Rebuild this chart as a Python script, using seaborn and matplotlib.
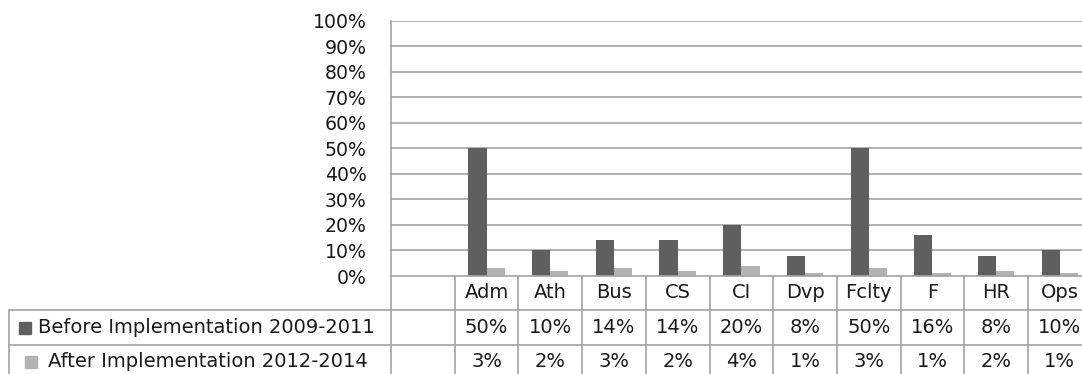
import matplotlib
matplotlib.use("Agg")
import matplotlib.pyplot as plt
import matplotlib.transforms as mtrans
from matplotlib.ticker import PercentFormatter
import pandas as pd
import seaborn as sns

# Departments (the first column of the chart is left empty)
categories = ["Adm", "Ath", "Bus", "CS", "CI", "Dvp", "Fclty", "F", "HR", "Ops"]
series_names = ["Before Implementation 2009-2011", "After Implementation 2012-2014"]
before_values = [0.50, 0.10, 0.14, 0.14, 0.20, 0.08, 0.50, 0.16, 0.08, 0.10]
after_values = [0.03, 0.02, 0.03, 0.02, 0.04, 0.01, 0.03, 0.01, 0.02, 0.01]
y_ticks = [0.0, 0.1, 0.2, 0.3, 0.4, 0.5, 0.6, 0.7, 0.8, 0.9, 1.0]

colors = ["#5f5f5f", "#b3b3b3"]
grid_color = "#a3a3a3"
text_color = "#1a1a1a"

df = pd.DataFrame({
    "Department": categories * 2,
    "Series": [series_names[0]] * len(categories) + [series_names[1]] * len(categories),
    "Share": before_values + after_values,
})
order = [""] + categories

sns.set_theme(style="white")
plt.rcParams["font.family"] = ["DejaVu Sans"]

W, H = 1082, 374
fig = plt.figure(figsize=(W / 100, H / 100), dpi=100)

# plot area geometry in pixels (from top-left)
left_px, top_px, zero_px = 391.0, 20.5, 276.0
col_w = 63.7
ncols = len(order)
ax = fig.add_axes([left_px / W, (H - zero_px) / H,
                   ncols * col_w / W, (zero_px - top_px) / H])

sns.barplot(data=df, x="Department", y="Share", hue="Series", order=order,
            hue_order=series_names, palette=colors, width=0.572,
            saturation=1, ax=ax, legend=False, edgecolor="none")

ax.set_xlim(-0.5, ncols - 0.5)
ax.set_ylim(0, 1)
ax.set_yticks(y_ticks)
ax.yaxis.set_major_formatter(PercentFormatter(1.0, decimals=0))
ax.set_xticks([])
ax.set_xlabel("")
ax.set_ylabel("")
ax.tick_params(axis="y", length=0, pad=17.5, labelsize=13.6, labelcolor=text_color)
for t in y_ticks[1:]:
    ax.axhline(t, color=grid_color, lw=1.2, zorder=0)
for side in ["top", "right"]:
    ax.spines[side].set_visible(False)
for side in ["left", "bottom"]:
    ax.spines[side].set_color(grid_color)
    ax.spines[side].set_linewidth(1.2)

# data table below the plot
def fy(px):
    return (H - px) / H

trf = fig.transFigure
tr = mtrans.blended_transform_factory(ax.transData, trf)
row_lines = [309.5, 345.0]
bottom_px = 382.0

for y in row_lines:
    fig.add_artist(plt.Line2D([9 / W, 1.0], [fy(y), fy(y)], transform=trf,
                              color=grid_color, lw=1.2))
fig.add_artist(plt.Line2D([9 / W, 9 / W], [fy(row_lines[0]), fy(bottom_px)],
                          transform=trf, color=grid_color, lw=1.2))
fig.add_artist(plt.Line2D([left_px / W, left_px / W], [fy(zero_px), fy(bottom_px)],
                          transform=trf, color=grid_color, lw=1.2))
for i in range(ncols):
    x = i + 0.5
    ax.add_artist(plt.Line2D([x, x], [fy(zero_px), fy(bottom_px)], transform=tr,
                             color=grid_color, lw=1.2, clip_on=False))

fs = 14
text_kw = dict(fontsize=fs, color=text_color, va="center", ha="center",
               transform=tr)
header_y, row1_y, row2_y = 292.5, 327.5, 361.5
for i, cat in enumerate(categories, start=1):
    fig.text(i, fy(header_y), cat, **text_kw)
    fig.text(i, fy(row1_y), f"{before_values[i - 1] * 100:.0f}%", **text_kw)
    fig.text(i, fy(row2_y), f"{after_values[i - 1] * 100:.0f}%", **text_kw)

# legend keys in the row headers
key = 12
fig.add_artist(plt.Rectangle((19 / W, fy(row1_y + key / 2)), key / W, key / H,
                             transform=trf, color=colors[0]))
fig.add_artist(plt.Rectangle((25 / W, fy(row2_y + key / 2)), key / W, key / H,
                             transform=trf, color=colors[1]))
fig.text(37.5 / W, fy(row1_y), series_names[0], fontsize=fs, color=text_color,
         va="center", ha="left")
fig.text(48 / W, fy(row2_y), series_names[1], fontsize=fs, color=text_color,
         va="center", ha="left")

fig.savefig("out.png", dpi=100)
